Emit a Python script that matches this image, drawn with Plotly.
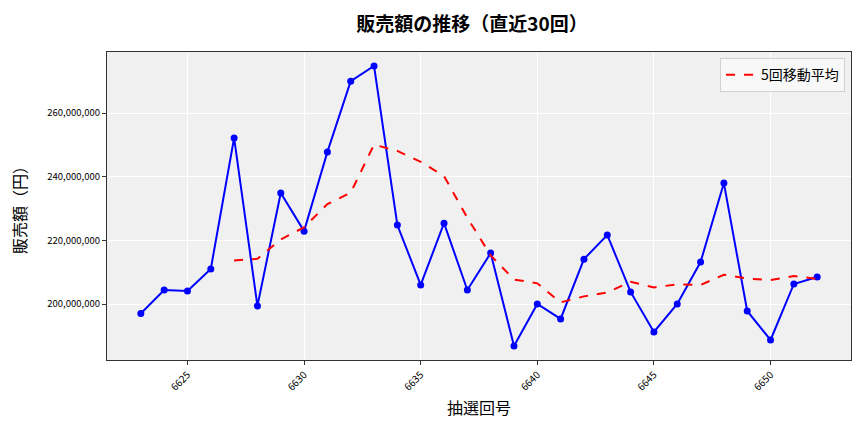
import plotly.graph_objects as go

draws = list(range(6623, 6653))
sales = [197.0, 204.4, 204.1, 211.0, 252.2, 199.4, 234.9, 222.9, 247.8, 270.0,
         274.8, 224.8, 206.0, 225.4, 204.4, 216.0, 186.8, 200.0, 195.3, 214.1,
         221.7, 203.8, 191.2, 200.0, 213.2, 238.0, 197.8, 188.7, 206.3, 208.5]
sales = [v * 1_000_000 for v in sales]
ma_draws = list(range(6627, 6653))
ma5 = [213.7, 214.2, 220.3, 224.1, 231.4, 235.0, 250.1, 248.1, 244.7, 240.2,
       227.1, 215.3, 207.7, 206.5, 200.5, 202.4, 203.6, 207.0, 205.2, 206.2,
       206.0, 209.2, 208.0, 207.5, 208.8, 207.9]
ma5 = [v * 1_000_000 for v in ma5]
y_ticks = [200_000_000, 220_000_000, 240_000_000, 260_000_000]
x_ticks = [6625, 6630, 6635, 6640, 6645, 6650]

FONT = "Noto Sans CJK JP"

fig = go.Figure()
fig.add_trace(go.Scatter(
    x=draws, y=sales, mode="lines+markers",
    line=dict(color="#0000ff", width=2),
    marker=dict(color="#0000ff", size=7),
    showlegend=False, name="販売額"))
fig.add_trace(go.Scatter(
    x=ma_draws, y=ma5, mode="lines",
    line=dict(color="#ff0000", width=2, dash="dash"),
    name="5回移動平均"))

fig.update_layout(
    width=864, height=432,
    margin=dict(l=107, r=13, t=52, b=72),
    paper_bgcolor="white", plot_bgcolor="#f0f0f0",
    font=dict(family=FONT, color="#000000"),
    title=dict(text="<b>販売額の推移（直近30回）</b>", x=472/864, xanchor="center",
               y=1 - 24/432, yanchor="middle", font=dict(size=19, family=FONT)),
    legend=dict(x=0.992, y=0.98, xanchor="right", yanchor="top",
                bgcolor="rgba(248,248,248,0.9)", bordercolor="#d0d0d0", borderwidth=1,
                font=dict(size=14, family=FONT)),
)
fig.update_xaxes(
    range=[6621.55, 6653.45], tickvals=x_ticks, tickangle=-45,
    tickfont=dict(size=10), showgrid=True, gridcolor="white", gridwidth=1,
    showline=True, linecolor="#333333", linewidth=1.2, mirror=True,
    ticks="outside", ticklen=4, tickcolor="#333333", zeroline=False,
    title=dict(text="抽選回号", font=dict(size=16), standoff=10))
fig.update_yaxes(
    range=[182_400_000, 279_200_000], tickvals=y_ticks,
    tickformat=",d", tickfont=dict(size=9.5), showgrid=True, gridcolor="white", gridwidth=1,
    showline=True, linecolor="#333333", linewidth=1.2, mirror=True,
    ticks="outside", ticklen=4, tickcolor="#333333", zeroline=False,
    title=dict(text="販売額（円）", font=dict(size=16), standoff=16))

fig.write_html("out.html")
